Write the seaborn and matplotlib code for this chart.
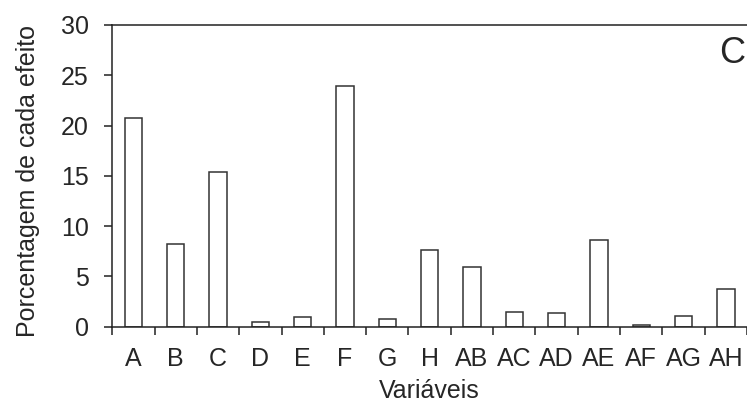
import matplotlib
matplotlib.use("Agg")
import matplotlib.pyplot as plt
import seaborn as sns
import pandas as pd
import numpy as np

categories = ["A", "B", "C", "D", "E", "F", "G", "H", "AB", "AC", "AD", "AE", "AF", "AG", "AH"]
values = [20.8, 8.24, 15.4, 0.44, 0.93, 23.9, 0.76, 7.65, 5.96, 1.49, 1.33, 8.58, 0.2, 1.09, 3.74]
y_ticks = [0, 5, 10, 15, 20, 25, 30]

sns.set_style("white")
plt.rcParams['font.family'] = ['Liberation Sans', 'DejaVu Sans']

df = pd.DataFrame({"Variáveis": categories, "Porcentagem": values})

FS = 18
fig = plt.figure(figsize=(7.47, 4.04), dpi=100)
left, bottom, top = 112.3 / 747, 1 - 326.7 / 404, 1 - 25 / 404
ax = fig.add_axes([left, bottom, 1 - left, top - bottom])

sns.barplot(data=df, x="Variáveis", y="Porcentagem", order=categories,
            color="white", edgecolor="#333333", linewidth=1.1, width=0.41,
            saturation=1, ax=ax)

ax.set_xlim(-0.5, 14.44)
ax.set_ylim(0, 30)
ax.set_yticks(y_ticks)
ax.set_yticklabels([str(t) for t in y_ticks], fontsize=FS)

ax.set_xticks(range(len(categories)))
ax.set_xticklabels(categories, fontsize=FS)
ax.tick_params(axis="x", which="major", length=0, pad=14.5)
ax.set_xticks(np.arange(-0.5, len(categories), 1), minor=True)
ax.tick_params(axis="x", which="minor", length=5.5, width=1.1, color="#222222",
               direction="out", bottom=True)
ax.tick_params(axis="y", which="major", length=6, width=1.1, color="#222222",
               direction="out", left=True, pad=11)

for side in ["left", "bottom", "top"]:
    ax.spines[side].set_visible(True)
    ax.spines[side].set_color("#222222")
    ax.spines[side].set_linewidth(1.1)
ax.spines["right"].set_visible(False)

ax.set_xlabel("Variáveis", fontsize=FS)
ax.xaxis.set_label_coords(0.5, -0.174)
ax.set_ylabel("Porcentagem de cada efeito", fontsize=FS)
ax.yaxis.set_label_coords(-0.114, 0.483)

fig.text(0.997, 1 - 36 / 404, "C", fontsize=26, ha="right", va="top")

fig.savefig("out.png", dpi=100)
